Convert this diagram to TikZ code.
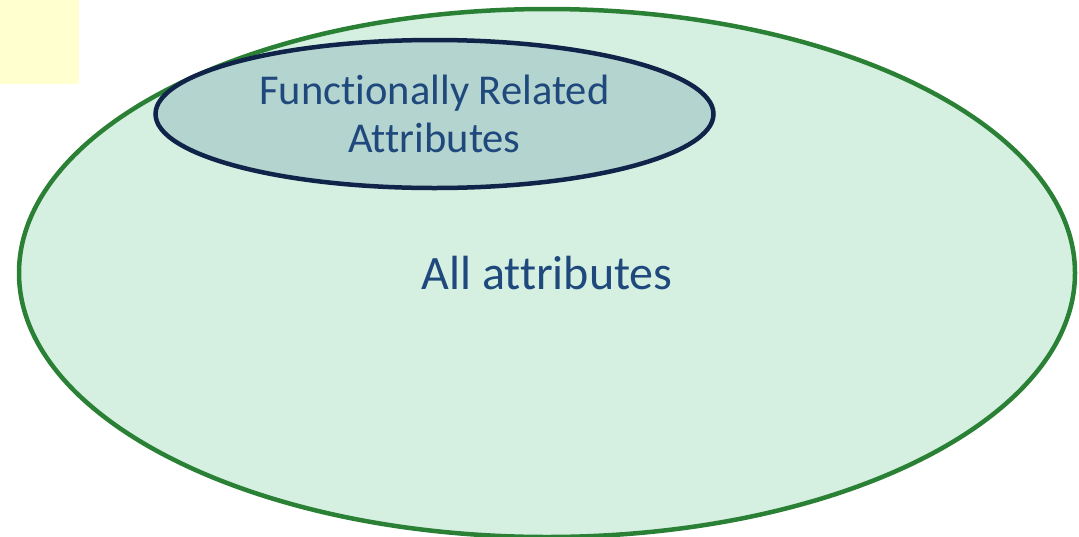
\documentclass[tikz,border=0pt]{standalone}
\usepackage{fontspec}
\setmainfont{Carlito}[RawFeature=-liga]
\usepackage{xcolor}
\usetikzlibrary{shapes.geometric}

\definecolor{allfill}{HTML}{D5F0E1}
\definecolor{allline}{HTML}{2A8035}
\definecolor{frfill}{HTML}{B4D4CF}
\definecolor{frline}{HTML}{10244A}
\definecolor{labelblue}{HTML}{1F497D}
\definecolor{notefill}{HTML}{FFFFD0}

\tikzset{
  set/.style={ellipse, inner sep=0pt, line width=4.5pt, text=labelblue,
    align=center},
  bigset/.style={set, draw=allline, fill=allfill,
    font=\fontsize{48}{52}\selectfont,
    minimum width=1056pt, minimum height=528pt},
  smallset/.style={set, draw=frline, fill=frfill,
    font=\fontsize{42.5}{48}\selectfont,
    minimum width=558pt, minimum height=148pt},
  note/.style={fill=notefill, inner sep=0pt,
    minimum width=79pt, minimum height=84pt}
}

\begin{document}
\begin{tikzpicture}[x=1pt, y=-1pt]
        \useasboundingbox (0,0) rectangle (1079,536);

        \node[note]     (note) at (39.5,42)  {};
        \node[bigset]   (all)  at (547,273)  {All attributes};
        \node[smallset] (fr)   at (434.5,114) {Functionally Related\\Attributes};
\end{tikzpicture}
\end{document}
